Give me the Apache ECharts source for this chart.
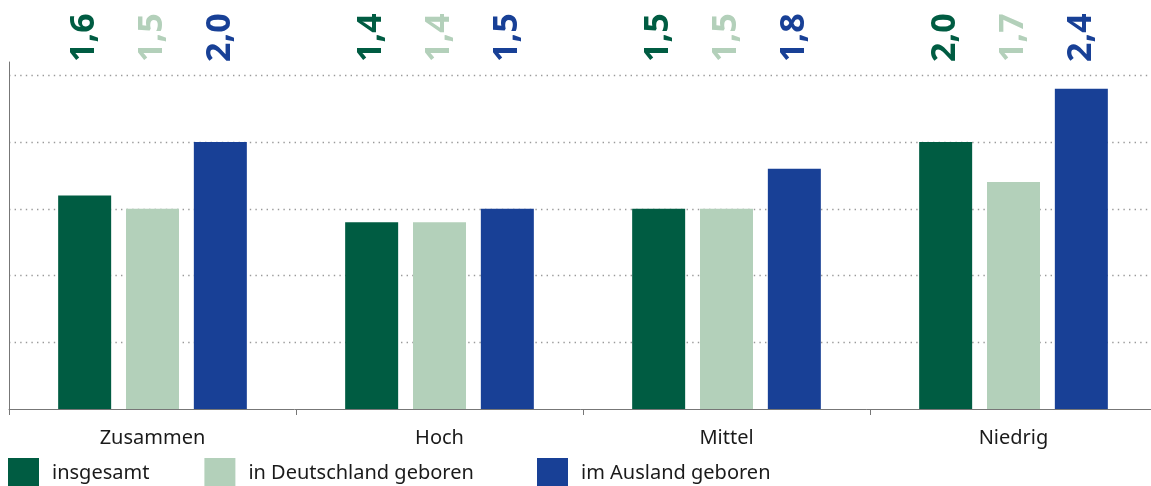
<!DOCTYPE html>
<html>
<head>
<meta charset="utf-8">
<script src="https://cdn.jsdelivr.net/npm/echarts@6/dist/echarts.min.js"></script>
<style>
  html, body { margin: 0; padding: 0; background: #ffffff; }
  #chart { width: 1151px; height: 486px; }
</style>
</head>
<body>
<div id="chart"></div>
<script>
// Qualifikationsgruppen
const categories = ['Zusammen', 'Hoch', 'Mittel', 'Niedrig'];

// Werte je Gruppe
const insgesamt = [1.6, 1.4, 1.5, 2.0];
const inDeutschland = [1.5, 1.4, 1.5, 1.7];
const imAusland = [2.0, 1.5, 1.8, 2.4];

const seriesNames = ['insgesamt', 'in Deutschland geboren', 'im Ausland geboren'];
const seriesColors = ['#005C42', '#B3D0BA', '#184096'];

// Achsenbereich; die Wertbeschriftungen stehen oberhalb der Zeichenfläche
const Y_MAX = 2.6;
const Y_STEP = 0.5;

const FONT = '"Noto Sans", sans-serif';

const fmt = v => v.toFixed(1).replace('.', ',');

const valueSets = [insgesamt, inDeutschland, imAusland];

const series = [];
valueSets.forEach((vals, i) => {
  series.push({
    name: seriesNames[i],
    type: 'bar',
    stack: 's' + i,
    barWidth: 53,
    barGap: '28%',
    itemStyle: { color: seriesColors[i] },
    emphasis: { disabled: true },
    data: vals
  });
  // unsichtbarer Aufsatz bis zum Achsenende, trägt die gedrehte Wertbeschriftung
  series.push({
    name: seriesNames[i] + ' Wert',
    type: 'bar',
    stack: 's' + i,
    barWidth: 53,
    barGap: '28%',
    silent: true,
    itemStyle: { color: 'rgba(0,0,0,0)' },
    emphasis: { disabled: true },
    label: {
      show: true,
      position: 'top',
      distance: 0,
      rotate: 90,
      align: 'left',
      verticalAlign: 'middle',
      color: seriesColors[i],
      fontFamily: FONT,
      fontWeight: 'bold',
      fontSize: 34,
      formatter: p => fmt(vals[p.dataIndex])
    },
    data: vals.map(v => +(Y_MAX - v).toFixed(3))
  });
});

const legendBase = {
  top: 458,
  padding: 0,
  icon: 'rect',
  itemWidth: 31,
  itemHeight: 31,
  itemGap: 55,
  selectedMode: false,
  textStyle: {
    fontFamily: FONT,
    fontSize: 20,
    color: '#1a1a1a',
    padding: [0, 0, 0, 8]
  }
};

const chart = echarts.init(document.getElementById('chart'), null, { renderer: 'canvas' });
chart.setOption({
  animation: false,
  backgroundColor: '#ffffff',
  textStyle: { fontFamily: FONT },
  grid: {
    left: 9, width: 1148, top: 62, height: 347,
    containLabel: false,
    outerBoundsMode: 'none'
  },
  legend: [
    Object.assign({}, legendBase, { left: 8, data: seriesNames.slice(0, 2) }),
    Object.assign({}, legendBase, { left: 537, data: seriesNames.slice(2) })
  ],
  xAxis: {
    type: 'category',
    data: categories,
    axisLine: { show: true, lineStyle: { color: '#777777', width: 1 } },
    axisTick: { show: true, alignWithLabel: false, length: 6, lineStyle: { color: '#777777' } },
    axisLabel: { fontFamily: FONT, fontSize: 20, color: '#1a1a1a', margin: 19 },
    splitLine: { show: false }
  },
  yAxis: {
    type: 'value',
    min: 0,
    max: Y_MAX,
    interval: Y_STEP,
    axisLine: { show: true, lineStyle: { color: '#777777', width: 1 } },
    axisTick: { show: false },
    axisLabel: { show: false },
    splitLine: {
      show: true,
      showMinLine: false,
      showMaxLine: false,
      lineStyle: { color: '#9a9a9a', width: 1.4, type: [1.4, 4.2] }
    }
  },
  series: series
});
</script>
</body>
</html>
